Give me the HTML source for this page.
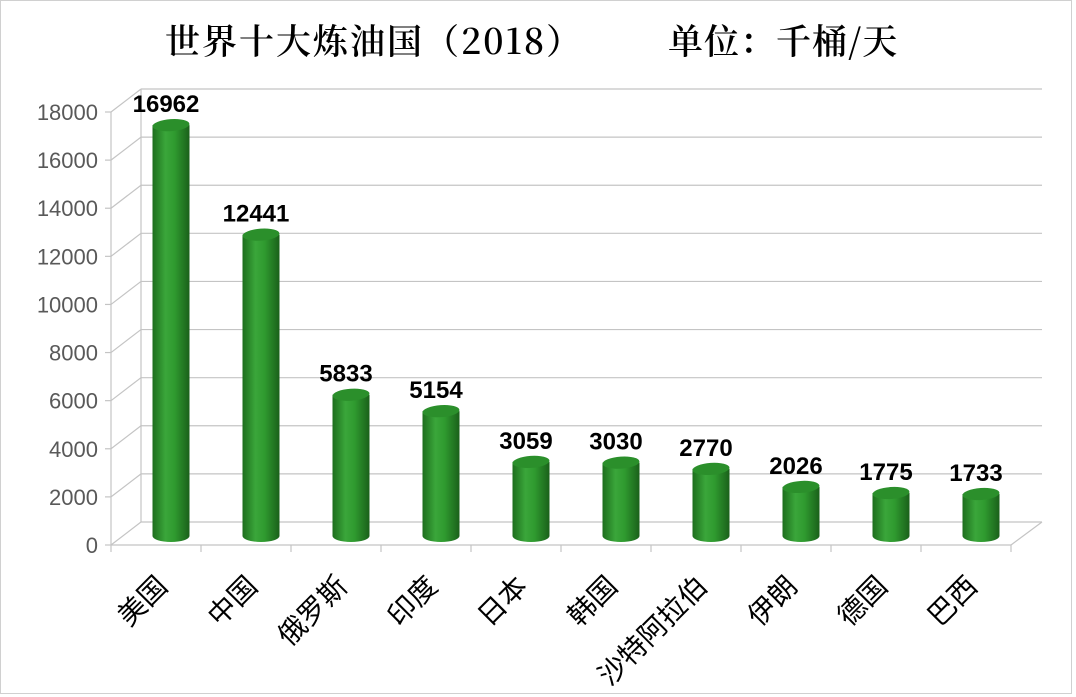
<!DOCTYPE html>
<html><head><meta charset="utf-8"><style>
html,body{margin:0;padding:0;background:#fff}
svg{display:block}
</style></head><body>
<svg width="1076" height="697" viewBox="0 0 1076 697" xmlns="http://www.w3.org/2000/svg">
<defs>
<linearGradient id="cyl" x1="0" x2="1" y1="0" y2="0">
<stop offset="0" stop-color="#1d6e1d"/>
<stop offset="0.35" stop-color="#3aa63a"/>
<stop offset="0.6" stop-color="#2f9a2f"/>
<stop offset="1" stop-color="#1a601a"/>
</linearGradient>
</defs>
<rect x="0.5" y="0.5" width="1071" height="693" fill="#fff" stroke="#d0d0d0"/>
<text x="165" y="54" font-family="'Noto Serif CJK SC','Liberation Serif',serif" font-size="35" font-weight="600" letter-spacing="2" fill="#000">世界十大炼油国（2018）</text>
<text x="668" y="54" font-family="'Noto Serif CJK SC','Liberation Serif',serif" font-size="35" font-weight="600" letter-spacing="1" fill="#000">单位：千桶/天</text>
<g stroke="#c4c4c4" stroke-width="1.2" fill="none">
<g id="grids"></g>
</g>
<g id="content"></g>
<script>
var ns="http://www.w3.org/2000/svg";
function el(t,a,p,txt){var e=document.createElementNS(ns,t);for(var k in a)e.setAttribute(k,a[k]);if(txt!=null)e.textContent=txt;(p||document.querySelector('svg')).appendChild(e);return e;}
var g=document.getElementById('grids');
var fx=111,fy0=545,fs=433/18000,dx=30,dy=-23;
for(var i=0;i<=9;i++){
 var v=i*2000,y=fy0-v*fs;
 el('line',{x1:fx,y1:y,x2:fx+dx,y2:y+dy},g);
 el('line',{x1:fx+dx,y1:y+dy,x2:1042,y2:y+dy},g);
 el('line',{x1:fx-6,y1:y,x2:fx,y2:y},g);
 el('text',{x:fx-13,y:y+8,'text-anchor':'end','font-family':'Liberation Sans,sans-serif','font-size':'22',fill:'#595959',stroke:'none'},null,String(v));
}
el('line',{x1:fx,y1:fy0,x2:fx,y2:fy0-433},g);
el('line',{x1:fx+dx,y1:fy0+dy,x2:fx+dx,y2:fy0-433+dy},g);
el('line',{x1:fx,y1:fy0,x2:1011,y2:fy0},g);
el('line',{x1:1011,y1:fy0,x2:1042,y2:fy0+dy},g);
for(var i=0;i<=10;i++){var x=fx+i*90;el('line',{x1:x,y1:fy0,x2:x,y2:fy0+7},g);}
var data=[["美国",16962],["中国",12441],["俄罗斯",5833],["印度",5154],["日本",3059],["韩国",3030],["沙特阿拉伯",2770],["伊朗",2026],["德国",1775],["巴西",1733]];
var c=document.getElementById('content');
var by=536,ms=436/18000,w=37,ry=6;
data.forEach(function(d,i){
 var cx=171+i*90,x0=cx-w/2,ty=by-d[1]*ms;
 el('path',{d:'M'+x0+' '+ty+' L'+x0+' '+by+' A'+(w/2)+' '+ry+' 0 0 0 '+(x0+w)+' '+by+' L'+(x0+w)+' '+ty+' Z',fill:'url(#cyl)'},c);
 el('ellipse',{cx:cx,cy:ty,rx:w/2,ry:ry,fill:'#2b8f2b',transform:'rotate(-4 '+cx+' '+ty+')'},c);
 el('text',{x:cx-5,y:ty-13,'text-anchor':'middle','font-family':'Liberation Sans,sans-serif','font-size':'24','font-weight':'bold',fill:'#000'},c,String(d[1]));
 var lx=cx-2,ly=588;
 el('text',{x:lx,y:ly,'text-anchor':'end','font-family':"'Liberation Sans','Noto Sans CJK SC',sans-serif",'font-size':'28',fill:'#000',transform:'rotate(-45 '+lx+' '+ly+')'},c,d[0]);
});
</script>
</svg>
</body></html>
